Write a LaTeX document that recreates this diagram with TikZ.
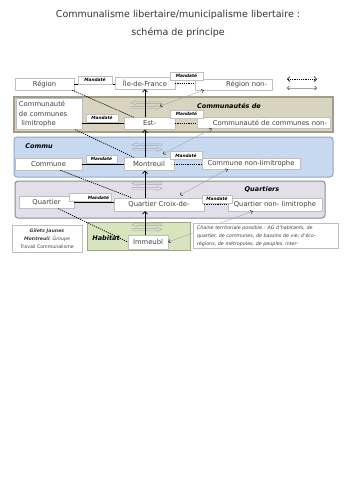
\documentclass[tikz,border=0pt]{standalone}
\usepackage{fontspec}
\setmainfont{DejaVu Sans}
\usetikzlibrary{arrows.meta,calc}
\definecolor{boxgray}{HTML}{BFBFBF}
\definecolor{txt}{HTML}{404040}
\definecolor{titletxt}{HTML}{333333}
\definecolor{tanfill}{HTML}{D9D4BF}
\definecolor{tandraw}{HTML}{A39D88}
\definecolor{bluefill}{HTML}{C6D9F1}
\definecolor{bluedraw}{HTML}{8EA7C9}
\definecolor{lavfill}{HTML}{E2DEEA}
\definecolor{lavdraw}{HTML}{8D8996}
\definecolor{greenfill}{HTML}{D7E4BD}
\definecolor{greendraw}{HTML}{9DA58C}
\definecolor{relgray}{HTML}{A6A6A6}
\tikzset{
  box/.style={draw=boxgray, fill=white, line width=0.4pt, inner sep=0pt, text=txt,
    font=\fontsize{6.8}{8}\selectfont},
  mand/.style={draw=boxgray, fill=white, line width=0.4pt, inner sep=0pt, text=black,
    font=\fontsize{4.3}{5}\selectfont\bfseries\itshape},
  bandlabel/.style={font=\fontsize{6.5}{8}\selectfont\bfseries\itshape, text=black, inner sep=0pt},
  titlestyle/.style={font=\fontsize{9.5}{11}\selectfont, text=titletxt, inner sep=0pt},
  notestyle/.style={draw=boxgray, fill=white, line width=0.4pt, inner sep=0pt, text=txt},
  varrow/.style={line width=0.9pt, -{Straight Barb[length=2.5pt,width=5pt,line width=0.7pt]}},
  mandline/.style={line width=0.9pt, black},
  dotline/.style={line width=0.7pt, dash pattern=on 1.2pt off 1pt},
  relline/.style={relgray, line width=0.4pt,
    {Straight Barb[length=2pt,width=3.5pt,black]}-{Straight Barb[length=2pt,width=3.5pt,black]}},
  legdot/.style={line width=0.6pt, dash pattern=on 1.2pt off 1pt,
    {Straight Barb[length=2.5pt,width=5pt]}-{Straight Barb[length=2.5pt,width=5pt]}},
  dblarrow/.pic={
    \draw[relgray, line width=0.4pt] (-15,-2.4) -- (-10,-4.6) -- (-10,-3.2) -- (15,-3.2)
      -- (15,-1.6) -- (-10,-1.6) -- (-10,-0.2) -- cycle;
    \draw[relgray, line width=0.4pt] (15,2.4) -- (10,4.6) -- (10,3.2) -- (-15,3.2)
      -- (-15,1.6) -- (10,1.6) -- (10,0.2) -- cycle;
  }
}
\begin{document}
\begin{tikzpicture}[x=1pt,y=-1pt]
\fill[white] (0,0) rectangle (356,504);
\useasboundingbox (0,0) rectangle (356,504);

% titles
\node[titlestyle] (t1) at (178,15) {Communalisme libertaire/municipalisme libertaire :};
\node[titlestyle] (t2) at (178,33) {schéma de principe};

% bands
\draw[fill=tanfill, draw=tandraw, line width=1.1pt] (14,97) rectangle (333,132);
\draw[fill=bluefill, draw=bluedraw, line width=1pt, rounded corners=3pt] (14,137) rectangle (333,177);
\draw[fill=lavfill, draw=lavdraw, line width=1pt, rounded corners=3pt] (15,181) rectangle (325,218);
\draw[fill=greenfill, draw=greendraw, line width=0.8pt] (87,222) rectangle (190,250);

\node[bandlabel] (lb1) at (229,106) {Communautés de};
\node[bandlabel] (lb2) at (39,146) {Commu};
\node[bandlabel] (lb3) at (262,190) {Quartiers};
\node[bandlabel] (lb4) at (106,238) {Habitat};

% double arrows in bands
\pic at (146,105) {dblarrow};
\pic at (147,147) {dblarrow};
\pic at (147,186) {dblarrow};
\pic at (147,227) {dblarrow};

% top row
\node[box, minimum width=59pt, minimum height=12pt] (region) at (44.5,84) {Région};
\node[box, minimum width=60pt, minimum height=12pt] (idf) at (145,83) {Île-de-France};
\node[box, minimum width=77pt, minimum height=11pt, text width=67pt, align=right] (regnon) at (233.5,84.5) {Région non-};

% Communautés row
\node[box, minimum width=66pt, minimum height=31pt, text width=60pt, align=left,
  font=\fontsize{6.8}{9.2}\selectfont] (ccl) at (49,114)
  {Communauté\\de communes\\\ limitrophe};
\node[box, minimum width=51pt, minimum height=12pt] (est) at (149.5,123.5) {Est-};
\node[box, minimum width=133pt, minimum height=11pt, text width=127pt, align=right] (ccnon) at (263.5,123) {Communauté de communes non-};

% Commu row
\node[box, minimum width=67pt, minimum height=12pt] (commune) at (48.5,164) {Commune};
\node[box, minimum width=50pt, minimum height=13pt] (montreuil) at (149,164) {Montreuil};
\node[box, minimum width=98pt, minimum height=11pt] (cnl) at (251,163.5) {Commune non-limitrophe};

% Quartiers row
\node[box, minimum width=55pt, minimum height=12pt] (quartier) at (46.5,202.5) {Quartier};
\node[box, minimum width=90pt, minimum height=13pt] (croix) at (159,204.5) {Quartier Croix-de-};
\node[box, minimum width=94pt, minimum height=13pt] (qnl) at (275,204.5) {Quartier non- limitrophe};

% Habitat
\node[box, minimum width=40pt, minimum height=14pt] (immeubl) at (148,242) {Immeubl};

% Mandaté horizontal links
\draw[mandline] (region.east) -- (region.east -| idf.west);
\draw[dotline] (idf.east) -- (idf.east -| regnon.west);
\draw[mandline] (est.west) -- (est.west -| ccl.east);
\draw[dotline] (est.east) -- (est.east -| ccnon.west);
\draw[mandline] (montreuil.west) -- (montreuil.west -| commune.east);
\draw[dotline] (montreuil.east) -- (montreuil.east -| cnl.west);
\draw[mandline] (quartier.east) -- (quartier.east -| croix.west);
\draw[dotline] (croix.east) -- (croix.east -| qnl.west);

\node[mand, minimum width=34pt, minimum height=8pt] (m1) at (95,80) {Mandaté};
\node[mand, minimum width=33pt, minimum height=8pt] (m2) at (186.5,76) {Mandaté};
\node[mand, minimum width=32pt, minimum height=8pt] (m3) at (102,118) {Mandaté};
\node[mand, minimum width=33pt, minimum height=8pt] (m4) at (186.5,114) {Mandaté};
\node[mand, minimum width=31pt, minimum height=8pt] (m5) at (101.5,159) {Mandaté};
\node[mand, minimum width=32pt, minimum height=8pt] (m6) at (186,155.5) {Mandaté};
\node[mand, minimum width=42pt, minimum height=8pt, text width=38pt, align=right] (m7) at (90,197.5) {Mandaté};
\node[mand, minimum width=30pt, minimum height=8pt] (m8) at (217,199) {Mandaté};

% vertical arrows
\draw[varrow] (est.north -| idf.south) -- (idf.south);
\draw[varrow] (montreuil.north -| idf.south) -- (est.south -| idf.south);
\draw[varrow] (croix.north -| idf.south) -- (montreuil.south -| idf.south);
\draw[varrow] (immeubl.north -| idf.south) -- (croix.south -| idf.south);

% dotted diagonal links
\draw[dotline] ([xshift=-2pt]region.south east) -- ([xshift=10pt]est.north west);
\draw[dotline] ([xshift=-7pt]ccl.south east) -- ([xshift=10pt]montreuil.north west);
\draw[dotline] ([xshift=-22pt]commune.south east) -- ([xshift=18pt]croix.north west);
\draw[dotline] ([xshift=-16pt]quartier.south east) -- (immeubl.west);

% grey relation lines
\coordinate (g1) at (160,106);
\coordinate (g2) at (163,154);
\coordinate (g3) at (180,195);
\draw[relline] ([xshift=9pt]regnon.south west) -- (g1);
\draw[relline] ([xshift=15pt]ccnon.south west) -- (g2);
\draw[relline] ([xshift=26pt]cnl.south west) -- (g3);
\draw[relline] ([xshift=25pt]qnl.south west) -- (immeubl.east);

% legend
\coordinate (la) at (287,79);
\coordinate (lb) at (317,79);
\coordinate (lc) at (287,88);
\coordinate (ld) at (317,88);
\draw[legdot] (la) -- (lb);
\draw[relline] (lc) -- (ld);

% notes
\node[notestyle, minimum width=70pt, minimum height=27pt, align=center,
  font=\fontsize{4.7}{8}\selectfont] (gilets) at (47,238.5)
  {\textbf{\textit{Gilets Jaunes}}\\\textbf{\textit{Montreuil}}\textit{, Groupe}\\Travail Communalisme};
\node[notestyle, minimum width=145pt, minimum height=25pt, text width=137pt, align=left,
  font=\fontsize{4.8}{8}\selectfont\itshape] (chaine) at (265.5,236)
  {Chaine territoriale possible : AG d'habitants, de\\quartier, de communes, de bassins de vie, d'éco-\\régions, de métropoles, de peuples, inter-};
\end{tikzpicture}
\end{document}
